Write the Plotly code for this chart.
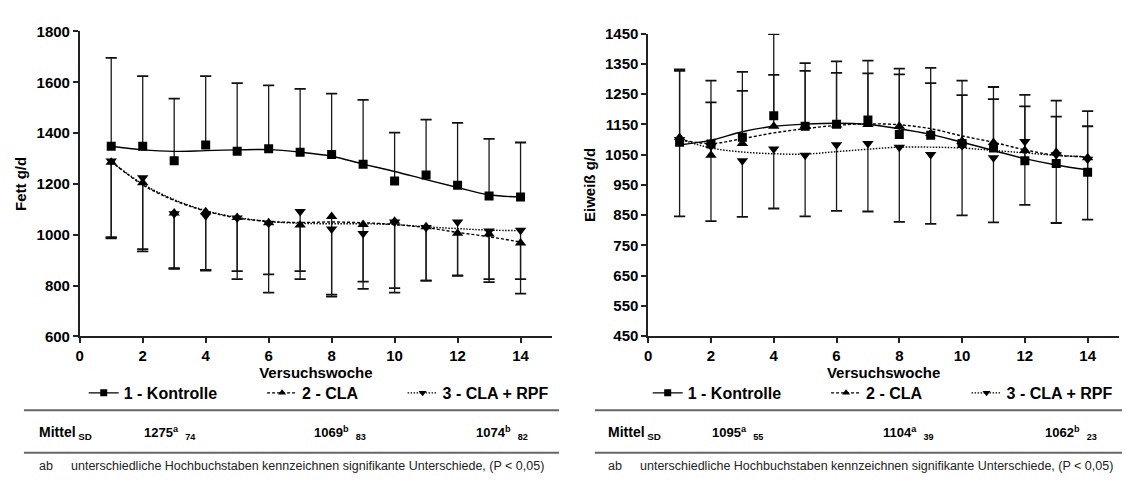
import plotly.graph_objects as go

W, H = 1125, 481

# ---------------- data ----------------
weeks = list(range(1, 15))

# Fett g/d (left)
fett_kontrolle = [1348, 1348, 1291, 1353, 1329, 1338, 1325, 1316, 1277, 1211, 1235, 1195, 1152, 1148]
fett_kontrolle_sd = [348, 276, 245, 271, 268, 250, 249, 239, 254, 191, 218, 245, 225, 215]
fett_cla = [1285, 1205, 1085, 1090, 1068, 1047, 1038, 1072, 1040, 1053, 1031, 1006, 1003, 967]
fett_cla_sd = [299, 271, 219, 231, 243, 275, 213, 316, 253, 281, 212, 168, 190, 199]
fett_rpf = [1290, 1224, 1082, 1075, 1066, 1045, 1091, 1022, 1005, 1050, 1028, 1050, 1015, 1018]
fett_rpf_sd = [300, 281, 214, 214, 209, 201, 234, 258, 190, 260, 209, 210, 190, 193]
fett_fit_kontrolle = [1348, 1334, 1328, 1331, 1334, 1335, 1325, 1309, 1278, 1249, 1217, 1186, 1157, 1148]
fett_fit_cla = [1288, 1196, 1135, 1093, 1066, 1052, 1048, 1050, 1047, 1040, 1028, 1009, 992, 971]
fett_fit_rpf = [1288, 1200, 1138, 1095, 1068, 1052, 1045, 1043, 1043, 1040, 1031, 1024, 1018, 1016]

# Eiweiss g/d (right)
ew_kontrolle = [1091, 1085, 1108, 1179, 1144, 1151, 1165, 1117, 1114, 1087, 1072, 1030, 1021, 992]
ew_kontrolle_sd = [241, 210, 216, 270, 209, 208, 196, 218, 223, 208, 202, 218, 208, 202]
ew_cla = [1107, 1048, 1087, 1144, 1145, 1148, 1150, 1144, 1120, 1095, 1090, 1064, 1058, 1040]
ew_cla_sd = [220, 175, 174, 170, 182, 173, 169, 172, 167, 152, 144, 146, 118, 104]
ew_rpf = [1100, 1078, 1030, 1069, 1048, 1083, 1087, 1075, 1051, 1080, 1040, 1094, 1050, 1035]
ew_rpf_sd = [254, 248, 186, 197, 202, 219, 225, 247, 230, 231, 214, 210, 226, 200]
ew_fit_kontrolle = [1082, 1098, 1126, 1144, 1151, 1154, 1150, 1136, 1117, 1091, 1064, 1037, 1016, 1000]
ew_fit_cla = [1100, 1087, 1103, 1122, 1136, 1147, 1152, 1149, 1136, 1112, 1091, 1066, 1048, 1043]
ew_fit_rpf = [1102, 1072, 1059, 1053, 1052, 1060, 1068, 1075, 1075, 1072, 1064, 1056, 1048, 1043]

series_names = ["1 - Kontrolle", "2 - CLA", "3 - CLA + RPF"]
mittel_fett = [("1275", "a", "74"), ("1069", "b", "83"), ("1074", "b", "82")]
mittel_ew = [("1095", "a", "55"), ("1104", "a", "39"), ("1062", "b", "23")]
x_ticks = [0, 2, 4, 6, 8, 10, 12, 14]
fett_ticks = [600, 800, 1000, 1200, 1400, 1600, 1800]
ew_ticks = [450, 550, 650, 750, 850, 950, 1050, 1150, 1250, 1350, 1450]
footnote = "unterschiedliche Hochbuchstaben kennzeichnen signifikante Unterschiede, (P < 0,05)"

FONT = "Liberation Sans, Arial, sans-serif"
styles = [
    dict(symbol="square", size=9, dash="solid"),
    dict(symbol="triangle-up", size=10, dash="3px,2px"),
    dict(symbol="triangle-down", size=10, dash="1.5px,1.5px"),
]

fig = go.Figure()


def add_series(xa, ya, means, sds, direction, fit, st):
    xs, ys, cx, cy = [], [], [], []
    for w, m, s in zip(weeks, means, sds):
        end = m + s if direction > 0 else m - s
        xs += [w, w, None]
        ys += [m, end, None]
        cx.append(w)
        cy.append(end)
    fig.add_trace(go.Scatter(x=xs, y=ys, mode="lines", xaxis=xa, yaxis=ya,
                             line=dict(color="#1a1a1a", width=1.3), showlegend=False, hoverinfo="skip"))
    fig.add_trace(go.Scatter(x=cx, y=cy, mode="markers", xaxis=xa, yaxis=ya,
                             marker=dict(symbol="line-ew", size=8, line=dict(width=1.8, color="#111")),
                             showlegend=False, hoverinfo="skip"))
    fig.add_trace(go.Scatter(x=weeks, y=fit, mode="lines", xaxis=xa, yaxis=ya, line_shape="spline",
                             line=dict(color="black", width=1.4, dash=st["dash"]), showlegend=False))


def add_markers(xa, ya, means, st):
    fig.add_trace(go.Scatter(x=weeks, y=means, mode="markers", xaxis=xa, yaxis=ya,
                             marker=dict(symbol=st["symbol"], size=st["size"], color="black"),
                             showlegend=False))


left = [(fett_kontrolle, fett_kontrolle_sd, 1, fett_fit_kontrolle),
        (fett_cla, fett_cla_sd, -1, fett_fit_cla),
        (fett_rpf, fett_rpf_sd, -1, fett_fit_rpf)]
right = [(ew_kontrolle, ew_kontrolle_sd, 1, ew_fit_kontrolle),
         (ew_cla, ew_cla_sd, 1, ew_fit_cla),
         (ew_rpf, ew_rpf_sd, -1, ew_fit_rpf)]

for (m, s, d, f), st in zip(left, styles):
    add_series("x", "y", m, s, d, f, st)
for (m, s, d, f), st in zip(right, styles):
    add_series("x2", "y2", m, s, d, f, st)
for (m, s, d, f), st in zip(left, styles):
    add_markers("x", "y", m, st)
for (m, s, d, f), st in zip(right, styles):
    add_markers("x2", "y2", m, st)

# legend-only traces
legend_ids = ["legend", "legend2", "legend3", "legend4", "legend5", "legend6"]
for i, (name, st) in enumerate(zip(series_names * 2, styles * 2)):
    xa, ya = ("x", "y") if i < 3 else ("x2", "y2")
    fig.add_trace(go.Scatter(x=[None], y=[None], mode="lines+markers", name=name, xaxis=xa, yaxis=ya,
                             legend=legend_ids[i],
                             line=dict(color="black", width=1.3, dash=st["dash"]),
                             marker=dict(symbol=st["symbol"], size=7, color="black")))

axis_common = dict(showline=True, linecolor="#222", linewidth=1.6, ticks="outside", ticklen=5,
                   tickwidth=1.5, tickcolor="#222", showgrid=False, zeroline=False,
                   tickfont=dict(family=FONT, size=15, color="black", weight="bold"))


def py(p):
    return 1 - p / H


def pxx(p):
    return p / W


layout = dict(
    width=W, height=H, margin=dict(l=0, r=0, t=0, b=0),
    paper_bgcolor="white", plot_bgcolor="white",
    font=dict(family=FONT, color="black"),
    xaxis=dict(domain=[pxx(76), pxx(550)], range=[0, 15], tickvals=x_ticks, anchor="y",
               title=dict(text="Versuchswoche", font=dict(size=15, weight="bold"), standoff=3), **axis_common),
    yaxis=dict(domain=[py(339.3), py(23.3)], range=[600, 1800], tickvals=fett_ticks, anchor="x",
               title=dict(text="Fett g/d", font=dict(size=15, weight="bold"), standoff=6), **axis_common),
    xaxis2=dict(domain=[pxx(646.5), pxx(1119)], range=[0, 15], tickvals=x_ticks, anchor="y2",
                title=dict(text="Versuchswoche", font=dict(size=15, weight="bold"), standoff=3), **axis_common),
    yaxis2=dict(domain=[py(339), py(25.7)], range=[450, 1450], tickvals=ew_ticks, anchor="x2",
                title=dict(text="Eiweiß g/d", font=dict(size=15, weight="bold"), standoff=6), **axis_common),
)

legend_x = [80, 259, 400, 646, 825, 966]
for lid, lx in zip(legend_ids, legend_x):
    layout[lid] = dict(x=pxx(lx), y=py(398), xanchor="left", yanchor="middle", orientation="h",
                       bgcolor="rgba(0,0,0,0)", itemwidth=30,
                       font=dict(family=FONT, size=16, color="black", weight="bold"))

fig.update_layout(**layout)

shapes = []
for x0, x1 in [(20, 557), (593, 1122)]:
    for yy in (416, 460):
        shapes.append(dict(type="line", xref="paper", yref="paper", x0=pxx(x0), x1=pxx(x1),
                           y0=py(yy), y1=py(yy), line=dict(color="#666", width=2)))
fig.update_layout(shapes=shapes)

ann = []
for offs, mittel in [(0, mittel_fett), (571, mittel_ew)]:
    ann.append(dict(x=pxx(33 + offs), y=py(440), xref="paper", yref="paper", xanchor="left", yanchor="middle",
                    showarrow=False, text="<b>Mittel</b><sub><b> SD</b></sub>",
                    font=dict(family=FONT, size=14, color="black")))
    for (val, sup, sd), xx in zip(mittel, [138, 309, 472]):
        ann.append(dict(x=pxx(xx + offs), y=py(440), xref="paper", yref="paper", xanchor="left", yanchor="middle",
                        showarrow=False, text=f"<b>{val}<sup>{sup}</sup>  <sub>{sd}</sub></b>",
                        font=dict(family=FONT, size=13, color="black")))
    ann.append(dict(x=pxx(33 + offs), y=py(474), xref="paper", yref="paper", xanchor="left", yanchor="middle",
                    showarrow=False, text="ab", font=dict(family=FONT, size=12.5, color="#222")))
    ann.append(dict(x=pxx(65 + offs), y=py(474), xref="paper", yref="paper", xanchor="left", yanchor="middle",
                    showarrow=False, text=footnote, font=dict(family=FONT, size=12.5, color="#222")))
fig.update_layout(annotations=ann)

fig.write_html("out.html")
